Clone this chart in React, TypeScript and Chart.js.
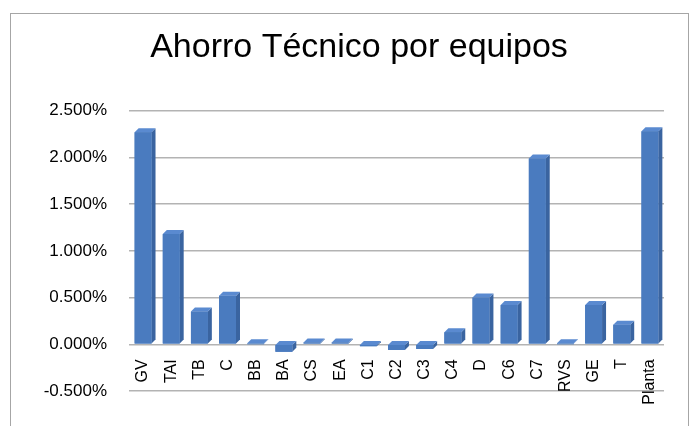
import React, { useEffect, useRef } from "react";
import { Chart, registerables } from "chart.js";

Chart.register(...registerables);

const categories = ["GV", "TAI", "TB", "C", "BB", "BA", "CS", "EA", "C1", "C2", "C3", "C4", "D", "C6", "C7", "RVS", "GE", "T", "Planta"];
const ahorroValues = [2.27, 1.18, 0.35, 0.52, 0.01, -0.08, 0.02, 0.02, -0.02, -0.06, -0.05, 0.13, 0.5, 0.42, 1.99, 0.01, 0.42, 0.21, 2.28];
const yMin = -0.5;
const yMax = 2.5;
const yStep = 0.5;
const titleText = "Ahorro Técnico por equipos";

const bar3d = {
  id: "bar3d",
  afterDatasetsDraw(chart: any) {
    const ctx = chart.ctx;
    const d = 4;
    chart.getSortedVisibleDatasetMetas().forEach((meta: any) => {
      meta.data.forEach((el: any) => {
        const p = el.getProps(["x", "y", "base", "width"], true);
        const left = p.x - p.width / 2;
        const right = p.x + p.width / 2;
        const top = Math.min(p.y, p.base);
        const bottom = Math.max(p.y, p.base);
        ctx.save();
        // side face
        ctx.beginPath();
        ctx.moveTo(right, top);
        ctx.lineTo(right + d, top - d);
        ctx.lineTo(right + d, bottom - d);
        ctx.lineTo(right, bottom);
        ctx.closePath();
        ctx.fillStyle = "#3a64a0";
        ctx.fill();
        // top face
        ctx.beginPath();
        ctx.moveTo(left, top);
        ctx.lineTo(left + d, top - d);
        ctx.lineTo(right + d, top - d);
        ctx.lineTo(right, top);
        ctx.closePath();
        ctx.fillStyle = "#5a8ad0";
        ctx.fill();
        // front face (ensure visible even for tiny values)
        ctx.fillStyle = "#4a7bbf";
        ctx.fillRect(left, top, right - left, Math.max(bottom - top, 1));
        ctx.restore();
      });
    });
  },
};

export default function App() {
  const canvasRef = useRef<HTMLCanvasElement | null>(null);

  useEffect(() => {
    if (!canvasRef.current) return;
    const chart = new Chart(canvasRef.current, {
      type: "bar",
      data: {
        labels: categories,
        datasets: [
          {
            label: "Ahorro",
            data: ahorroValues,
            backgroundColor: "#4a7bbf",
            borderWidth: 0,
            barPercentage: 0.6,
            categoryPercentage: 1,
          },
        ],
      },
      plugins: [bar3d],
      options: {
        animation: false,
        responsive: true,
        maintainAspectRatio: false,
        layout: { padding: { left: 18, right: 0, top: 0, bottom: 35 } },
        plugins: {
          legend: { display: false },
          tooltip: { enabled: false },
          title: {
            display: true,
            text: titleText,
            color: "#000",
            font: { family: "'Liberation Sans', Arial, sans-serif", size: 34, weight: "normal" },
            padding: { top: 27, bottom: 43 },
          },
        },
        scales: {
          x: {
            position: { y: 0 } as any,
            grid: { display: false, drawTicks: false },
            border: { display: false },
            ticks: {
              color: "#000",
              font: { family: "'Liberation Sans', Arial, sans-serif", size: 16 },
              maxRotation: 90,
              minRotation: 90,
              padding: 15,
              autoSkip: false,
            },
          },
          y: {
            min: yMin,
            max: yMax,
            afterFit: (scale: any) => {
              scale.width = 111;
            },
            grid: { color: "#b3b3b3", lineWidth: 1.5, drawTicks: false },
            border: { display: false },
            ticks: {
              stepSize: yStep,
              color: "#000",
              padding: 22,
              font: { family: "'Liberation Sans', Arial, sans-serif", size: 17 },
              callback: (v: any) => Number(v).toFixed(3) + "%",
            },
          },
          yRight: {
            type: "linear",
            position: "right",
            display: true,
            min: yMin,
            max: yMax,
            afterFit: (scale: any) => {
              scale.width = 36;
            },
            grid: { display: false, drawTicks: false },
            border: { display: false },
            ticks: { display: false },
          },
        },
      },
    });
    return () => chart.destroy();
  }, []);

  return (
    <div style={{ position: "absolute", left: 0, top: 0, width: 700, height: 426, background: "#fff", overflow: "hidden" }}>
      <div style={{ position: "absolute", left: 10, top: 13, width: 679, height: 440, border: "1px solid #a6a6a6", boxSizing: "border-box" }} />
      <div style={{ position: "absolute", left: 0, top: 0, width: 700, height: 426 }}>
        <canvas ref={canvasRef} />
      </div>
    </div>
  );
}
